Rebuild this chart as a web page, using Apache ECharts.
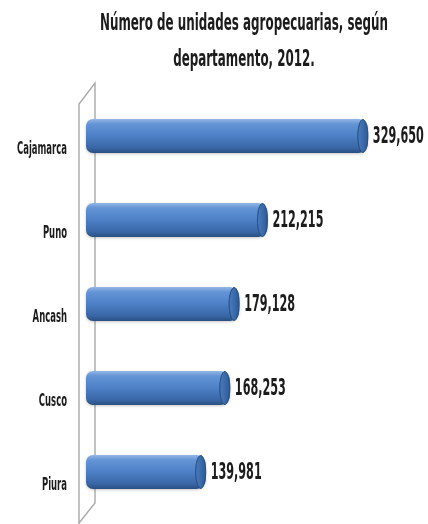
<!DOCTYPE html>
<html><head><meta charset="utf-8">
<script src="https://cdn.jsdelivr.net/npm/echarts@6/dist/echarts.min.js"></script>
<style>html,body{margin:0;padding:0;background:#fff}#c{width:428px;height:524px}</style>
</head><body><div id="c"></div>
<script>
const categories = ['Cajamarca', 'Puno', 'Ancash', 'Cusco', 'Piura'];
const values = [329650, 212215, 179128, 168253, 139981];
const titleLines = ['Número de unidades agropecuarias, según', 'departamento, 2012.'];

const FAMILY = '"DejaVu Sans Condensed", "DejaVu Sans", sans-serif';
const TXT = '#1c1c1c';
const ctx = document.createElement('canvas').getContext('2d');
function measure(font, text) { ctx.font = font; return ctx.measureText(text).width; }
const fmt = v => v.toLocaleString('en-US');

// condensed, tall text (scale fitted to the reference's text boxes)
const valFont = 'bold 16px ' + FAMILY;
const valSX = 51 / measure(valFont, fmt(values[0]));
const valSY = 17 / (16 * 0.729);
const catFont = 'bold 14px ' + FAMILY;
const catSX = 50 / measure(catFont, categories[0]);
const catSY = 13 / (14 * 0.729);
const titleFont = 'bold 18px ' + FAMILY;
const titleSX = 288 / measure(titleFont, titleLines[0]);
const titleSY = 16.5 / (18 * 0.729);

const chart = echarts.init(document.getElementById('c'), null, {renderer: 'canvas'});
const barColor = new echarts.graphic.LinearGradient(0, 0, 0, 1, [
  {offset: 0, color: '#93b7e4'},
  {offset: 0.15, color: '#6394d6'},
  {offset: 0.5, color: '#4d80c6'},
  {offset: 0.85, color: '#3966a6'},
  {offset: 1, color: '#284f7e'}
]);
const capColor = new echarts.graphic.LinearGradient(0, 0, 1, 0, [
  {offset: 0, color: '#4a7dc2'},
  {offset: 1, color: '#2c5994'}
]);

chart.setOption({
  animation: false,
  grid: {left: 86, right: 0, top: 94, bottom: 10, containLabel: false},
  xAxis: {type: 'value', min: 0, max: 400000, show: false},
  yAxis: {
    type: 'category', data: categories, inverse: true,
    axisLine: {show: false}, axisTick: {show: false}, splitLine: {show: false},
    axisLabel: {show: false}
  },
  series: [{
    type: 'bar', data: values, barWidth: 34, z: 2,
    itemStyle: {color: barColor, borderRadius: [7, 9, 9, 7], shadowColor: 'rgba(0,0,0,0.22)', shadowBlur: 3, shadowOffsetY: 1}
  }, {
    type: 'custom', z: 3,
    data: values.map((v, i) => [v, i]),
    encode: {x: 0, y: 1},
    renderItem: function (params, api) {
      const v = api.value(0), i = api.value(1);
      const end = api.coord([v, i]);
      const start = api.coord([0, i]);
      return {type: 'group', children: [
        {type: 'ellipse', shape: {cx: end[0] - 5, cy: end[1], rx: 5, ry: 16.5},
         style: {fill: capColor, stroke: 'rgba(40,75,125,0.8)', lineWidth: 0.8}},
        {type: 'text', x: end[0] + 5, y: end[1] + 0.5, scaleX: valSX, scaleY: valSY,
         style: {text: fmt(v), font: valFont, fill: TXT, align: 'left', verticalAlign: 'middle'}},
        {type: 'text', x: start[0] - 19, y: end[1] + 13, scaleX: catSX, scaleY: catSY,
         style: {text: categories[i], font: catFont, fill: TXT, align: 'right', verticalAlign: 'middle'}}
      ]};
    }
  }]
});

// 3D wall decoration derived from the grid
const x0 = chart.convertToPixel({xAxisIndex: 0}, 0);
const lx = x0 - 7, rx = x0 + 9;
chart.setOption({
  graphic: [
    {type: 'polyline', z: -1, shape: {points: [[lx, 526], [lx, 104], [rx, 83], [rx, 503], [lx, 523]]},
     style: {stroke: '#a8a8a8', lineWidth: 1.4, fill: null}},
    {type: 'text', x: 244, y: 24, scaleX: titleSX, scaleY: titleSY,
     style: {text: titleLines[0], font: titleFont, fill: TXT, align: 'center', verticalAlign: 'middle'}},
    {type: 'text', x: 244, y: 60, scaleX: titleSX, scaleY: titleSY,
     style: {text: titleLines[1], font: titleFont, fill: TXT, align: 'center', verticalAlign: 'middle'}}
  ]
});
</script></body></html>
